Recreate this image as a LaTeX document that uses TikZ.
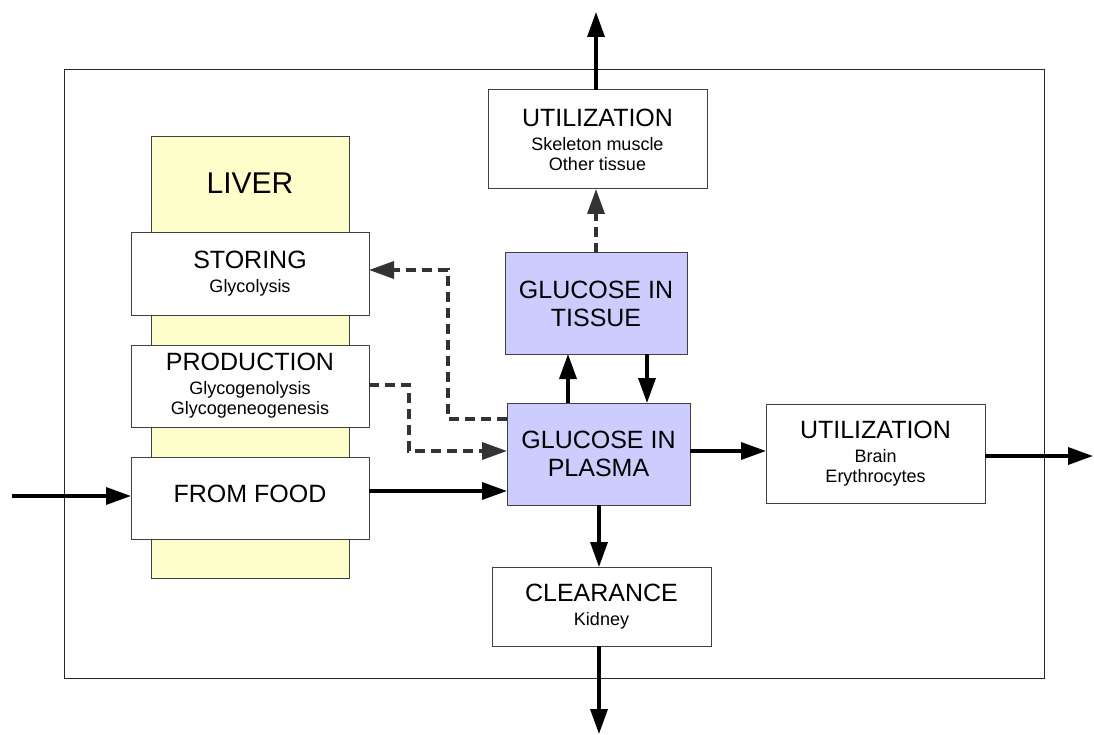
\documentclass[tikz,border=0pt]{standalone}
\usepackage{fontspec}
\setmainfont{Liberation Sans}
\usetikzlibrary{arrows.meta}
\newcommand\hdf{\fontsize{25}{28}\selectfont}
\newcommand\sbf{\fontsize{18}{20}\selectfont}
\definecolor{liveryellow}{HTML}{FFFFCC}
\definecolor{glucoseblue}{HTML}{CCCCFF}
\definecolor{edgegray}{HTML}{404040}
\definecolor{dashgray}{HTML}{333333}
\begin{document}
\begin{tikzpicture}[x=1pt,y=-1pt,
  box/.style={draw=edgegray,line width=1pt,fill=white,inner sep=0pt,outer sep=0pt,
    align=center,font=\sbf},
  title/.style={box,font=\hdf},
  gluc/.style={title,fill=glucoseblue},
  flow/.style={line width=3.5pt,-{Triangle[length=25pt,width=17pt]}},
  maybe/.style={dashgray,line width=3.5pt,dash pattern=on 10pt off 6pt,
    -{Triangle[length=25pt,width=17pt]}},
]
\useasboundingbox (0,0) rectangle (1094,735);

% outer frame
\draw[line width=1pt,draw=black!85] (64,70) rectangle (1044,678);

% liver column
\node[draw=edgegray,fill=liveryellow,line width=1pt,inner sep=0pt,outer sep=0pt,
  minimum width=198pt,minimum height=441pt] (liver) at (250,357.5) {};
\node[font=\fontsize{30}{34}\selectfont,anchor=base] (livertext) at (250,194) {LIVER};

% boxes
\node[box,minimum width=238pt,minimum height=82pt] (storing) at (250,274)
  {{\hdf STORING}\\[4pt]Glycolysis};
\node[box,minimum width=238pt,minimum height=82pt] (production) at (250,386)
  {{\hdf PRODUCTION}\\[4pt]Glycogenolysis\\Glycogeneogenesis};
\node[title,minimum width=238pt,minimum height=82pt,text depth=9pt] (food) at (250,498)
  {FROM FOOD};
\node[box,minimum width=219pt,minimum height=99pt] (utop) at (597.5,139.5)
  {{\hdf UTILIZATION}\\[4pt]Skeleton muscle\\Other tissue};
\node[gluc,minimum width=182pt,minimum height=101pt] (tissue) at (596,303.5)
  {GLUCOSE IN\\TISSUE};
\node[gluc,minimum width=183pt,minimum height=102pt] (plasma) at (598.5,454)
  {GLUCOSE IN\\PLASMA};
\node[box,minimum width=219pt,minimum height=99pt] (uright) at (875.5,453.5)
  {{\hdf UTILIZATION}\\[4pt]Brain\\Erythrocytes};
\node[box,minimum width=219pt,minimum height=79pt] (clearance) at (601.5,606.5)
  {{\hdf CLEARANCE}\\[4pt]Kidney};

% free ends
\coordinate (foodin) at (12,496);
\coordinate (topout) at (596,12);
\coordinate (rightout) at (1093,456);
\coordinate (bottomout) at (599,734);
\coordinate (storeturn) at (448,419);
\coordinate (prodturn) at (409,385);

% solid flows
\draw[flow] (foodin) -- (foodin -| food.west);
\draw[flow] (food.east |- 0,491) -- (plasma.west |- 0,491);
\draw[flow] (plasma.east |- 0,451) -- (uright.west |- 0,451);
\draw[flow] (uright.east |- rightout) -- (rightout);
\draw[flow] (plasma.south -| bottomout) -- (clearance.north -| bottomout);
\draw[flow] (clearance.south -| bottomout) -- (bottomout);
\draw[flow] (plasma.north -| 568,0) -- (tissue.south -| 568,0);
\draw[flow] (tissue.south -| 647,0) -- (plasma.north -| 647,0);
\draw[flow] (utop.north -| topout) -- (topout);

% dashed flows
\draw[maybe] (tissue.north -| 596,0) -- (utop.south -| 596,0);
\draw[maybe] (plasma.west |- storeturn) -- (storeturn) |- (storing.east |- 0,270);
\draw[maybe] (production.east |- prodturn) -- (prodturn) |- (plasma.west |- 0,451);
\end{tikzpicture}
\end{document}
